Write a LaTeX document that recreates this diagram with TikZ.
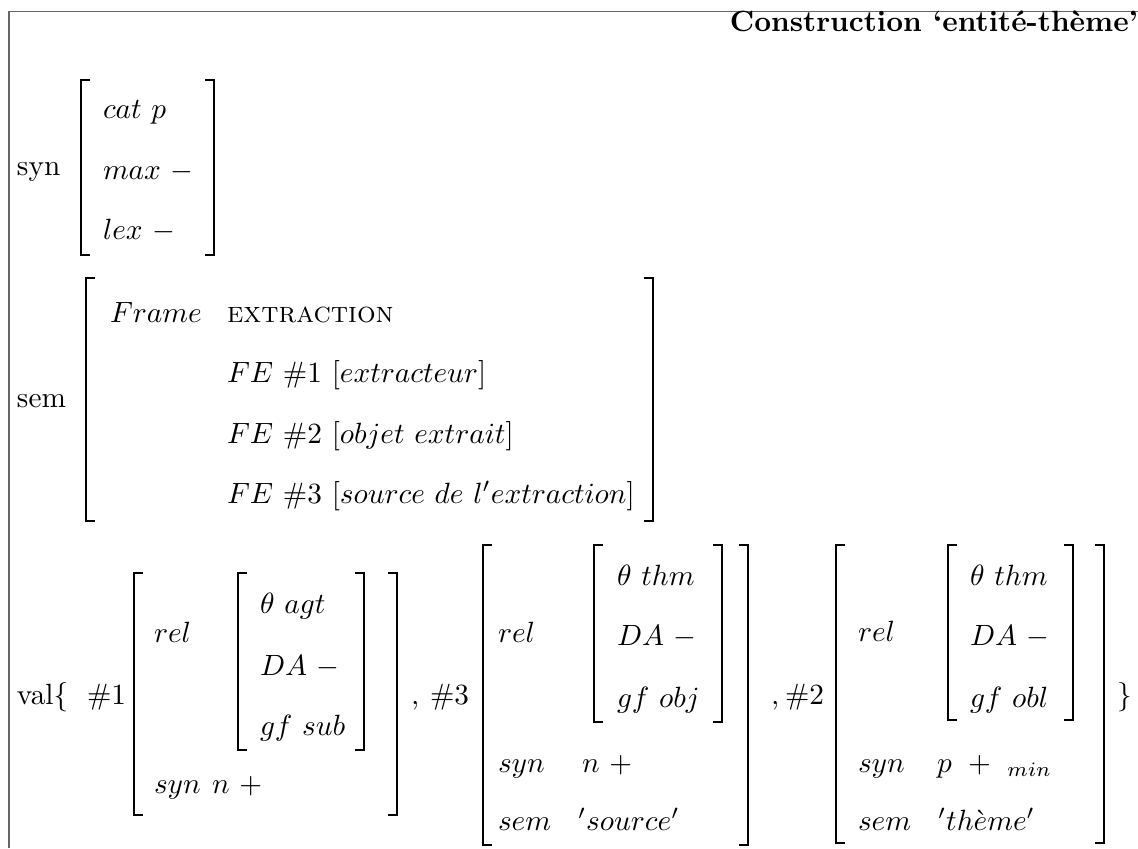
\documentclass[tikz,border=0pt]{standalone}
\usepackage{fontspec}
\newcommand\lbrk[3]{\draw[brk] (#1+9,#2) -- (#1,#2) -- (#1,#3) -- (#1+9,#3);}
\newcommand\rbrk[3]{\draw[brk] (#1-9,#2) -- (#1,#2) -- (#1,#3) -- (#1-9,#3);}
\begin{document}
\begin{tikzpicture}[x=0.3413pt,y=-0.3413pt,
  txt/.style={anchor=base west,inner sep=0pt,outer sep=0pt},
  brk/.style={line width=0.82pt,line join=miter,line cap=butt},
  frm/.style={draw=black!60,line width=0.35pt}]
\useasboundingbox (0,0) rectangle (1138,848);
\draw[frm] (9,848) -- (9,11) -- (1138,11);
% title
\node[txt,font=\bfseries,anchor=base east] (title) at (1138,31) {Construction ‘entité-thème’};
% syn
\node[txt] (synL) at (17,175) {syn};
\lbrk{81}{80}{255}\rbrk{214}{80}{255}
\node[txt] (cat) at (103,118) {$cat\ p$};
\node[txt] (max) at (103,179) {$max\ -$};
\node[txt] (lex) at (103,239) {$lex\ -$};
% sem
\node[txt] (semL) at (17,407) {sem};
\lbrk{86}{278}{521}\rbrk{653}{278}{521}
\node[txt] (frame) at (110,322) {$Frame$};
\node[txt] (extr) at (227,322) {\textsc{extraction}};
\node[txt] (fe1) at (227,382) {$FE\ \#1\ [extracteur]$};
\node[txt] (fe2) at (227,443) {$FE\ \#2\ [objet\ extrait]$};
\node[txt] (fe3) at (227,503) {$FE\ \#3\ [source\ de\ l'extraction]$};
% val
\node[txt] (valL) at (17,704) {val\{};
\node[txt] (h1) at (87,704) {$\#1$};
\lbrk{134}{573}{815}\rbrk{397}{573}{815}
\lbrk{238}{573}{750}\rbrk{364}{573}{750}
\node[txt] (rel1) at (154,642) {$rel$};
\node[txt] (t1) at (260,613) {$\theta\ agt$};
\node[txt] (da1) at (260,675) {$DA\ -$};
\node[txt] (gf1) at (260,735) {$gf\ sub$};
\node[txt] (syn1) at (154,793) {$syn$};
\node[txt] (v1) at (212,793) {$n\ +$};
\node[txt] (c1) at (411,704) {$,$};
\node[txt] (h3) at (430,704) {$\#3$};
\lbrk{483}{545}{845}\rbrk{748}{545}{845}
\lbrk{594}{545}{722}\rbrk{722}{545}{722}
\node[txt] (rel3) at (498,642) {$rel$};
\node[txt] (t3) at (617,585) {$\theta\ thm$};
\node[txt] (da3) at (617,645) {$DA\ -$};
\node[txt] (gf3) at (617,707) {$gf\ obj$};
\node[txt] (syn3) at (498,772) {$syn$};
\node[txt] (v3) at (582,772) {$n\ +$};
\node[txt] (sem3) at (498,830) {$sem$};
\node[txt] (s3) at (578,830) {$'source'$};
\node[txt] (c2) at (771,704) {$,$};
\node[txt] (h2) at (785,704) {$\#2$};
\lbrk{836}{545}{843}\rbrk{1104}{545}{843}
\lbrk{948}{545}{720}\rbrk{1073}{545}{720}
\node[txt] (rel2) at (858,641) {$rel$};
\node[txt] (t2) at (970,585) {$\theta\ thm$};
\node[txt] (da2) at (970,645) {$DA\ -$};
\node[txt] (gf2) at (970,707) {$gf\ obl$};
\node[txt] (syn2) at (858,772) {$syn$};
\node[txt] (v2) at (937,772) {$p\ +\ {}_{min}$};
\node[txt] (sem2) at (858,830) {$sem$};
\node[txt] (s2) at (938,830) {$'th\grave{e}me'$};
\node[txt] (close) at (1117,704) {\}};
\end{tikzpicture}
\end{document}
